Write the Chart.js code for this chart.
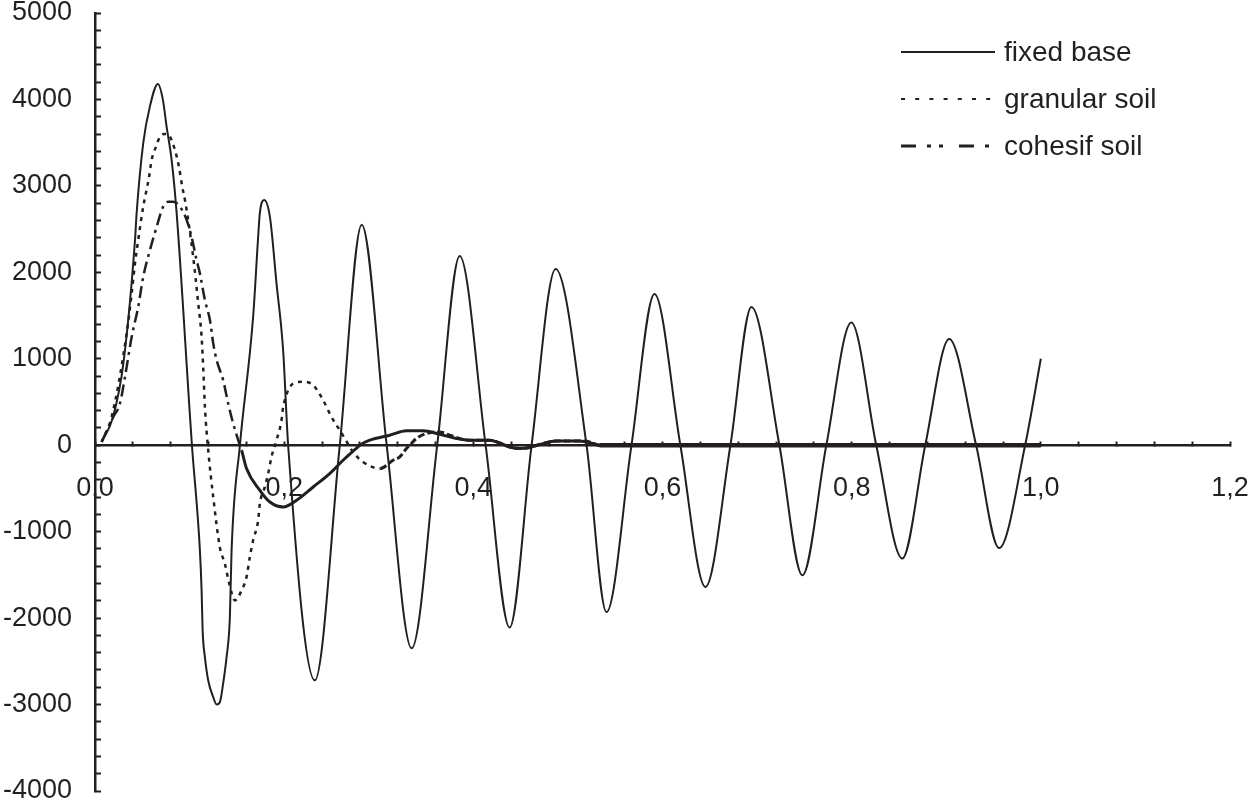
<!DOCTYPE html>
<html>
<head>
<meta charset="utf-8">
<script src="https://cdn.jsdelivr.net/npm/chart.js@4.4.1/dist/chart.umd.min.js"></script>
<style>
  html, body { margin: 0; padding: 0; background: #fff; }
  #wrap { width: 1253px; height: 805px; }
</style>
</head>
<body>
<div id="wrap"><canvas id="chart" width="1253" height="805"></canvas></div>
<script>
// --- Data: [time, value] ---
const seriesNames = ["fixed base", "granular soil", "cohesif soil"];

const fixedBase = [
  [0.007, 38], [0.019, 324], [0.030, 946], [0.0423, 2374], [0.044, 2683], [0.051, 3494],
  [0.058, 3917], [0.0665, 4180], [0.0718, 3995], [0.0757, 3686], [0.081, 3300], [0.0863, 2687],
  [0.1025, 0], [0.1109, -1216], [0.1127, -1679], [0.1138, -2142], [0.1162, -2452], [0.1197, -2721],
  [0.125, -2915], [0.1286, -3000], [0.132, -2973], [0.1355, -2756], [0.1391, -2452], [0.1426, -1988],
  [0.1444, -1216], [0.1532, 0], [0.1672, 1486], [0.1725, 2412], [0.1743, 2687], [0.1788, 2837],
  [0.1849, 2644], [0.1919, 1873], [0.1989, 1100], [0.2042, 0], [0.2324, -2720], [0.2588, 0],
  [0.2820, 2550], [0.3084, 0], [0.3348, -2350], [0.3618, 0], [0.3856, 2190], [0.4130, 0],
  [0.4384, -2110], [0.4616, 0], [0.4870, 2040], [0.5197, 0], [0.5408, -1930], [0.5672, 0],
  [0.5915, 1750], [0.6189, 0], [0.6454, -1640], [0.6718, 0], [0.6940, 1600], [0.7236, 0],
  [0.7479, -1505], [0.7732, 0], [0.7996, 1420], [0.8260, 0], [0.8535, -1310], [0.8778, 0],
  [0.9031, 1230], [0.9316, 0], [0.9559, -1190], [0.9834, 0], [1.0, 1000]
];

const granularSoil = [
  [0.007, 38], [0.0176, 328], [0.0335, 1293], [0.0388, 1757], [0.0423, 2104], [0.0457, 2374],
  [0.051, 2760], [0.057, 3092], [0.0599, 3300], [0.0644, 3451], [0.0687, 3570], [0.0739, 3601],
  [0.0792, 3570], [0.0845, 3416], [0.089, 3208], [0.0922, 2991], [0.0951, 2837], [0.1038, 2180],
  [0.1091, 1644], [0.1127, 1254], [0.1144, 900], [0.1162, 444], [0.1197, -58], [0.125, -598],
  [0.132, -1181], [0.1373, -1370], [0.1419, -1598], [0.1479, -1795], [0.155, -1679], [0.1602, -1525],
  [0.1637, -1293], [0.1672, -1100], [0.1725, -869], [0.1743, -675], [0.1796, -482], [0.1831, -328],
  [0.1866, -135], [0.1919, 58], [0.1972, 290], [0.1989, 444], [0.2007, 521], [0.2042, 637],
  [0.2095, 714], [0.22, 733], [0.2306, 695], [0.2412, 521], [0.25, 328], [0.2588, 174],
  [0.2641, 78], [0.2728, -78], [0.2834, -193], [0.3015, -270], [0.3151, -174], [0.3222, -135],
  [0.3293, -38], [0.3327, 0], [0.3398, 78], [0.3504, 135], [0.3644, 154], [0.375, 116],
  [0.3961, 58], [0.4172, 58], [0.4278, 27], [0.4384, -20], [0.4489, -38], [0.4595, -27],
  [0.4701, 8], [0.4877, 50], [0.5124, 50], [0.5229, 38], [0.5264, 20], [0.5334, 0], [1.0, 0]
];

const cohesifSoil = [
  [0.007, 38], [0.0193, 328], [0.0264, 483], [0.0317, 791], [0.0388, 1254], [0.0457, 1602],
  [0.051, 1949], [0.0581, 2258], [0.0652, 2528], [0.0721, 2760], [0.0774, 2817], [0.0827, 2817],
  [0.0898, 2760], [0.0969, 2606], [0.1021, 2412], [0.1074, 2142], [0.1109, 1988], [0.1162, 1679],
  [0.1215, 1448], [0.125, 1178], [0.1286, 984], [0.1355, 753], [0.1408, 483], [0.1461, 251],
  [0.1514, 58], [0.155, -58], [0.1602, -270], [0.1743, -521], [0.1849, -657], [0.1989, -714],
  [0.2131, -637], [0.2306, -483], [0.2482, -328], [0.2623, -174], [0.2764, -35], [0.2799, 0],
  [0.2905, 58], [0.3116, 116], [0.3293, 166], [0.3468, 166], [0.3644, 127], [0.3821, 78],
  [0.3961, 58], [0.4172, 58], [0.4278, 27], [0.4384, -20], [0.4489, -38], [0.4595, -27],
  [0.4701, 8], [0.4877, 50], [0.5124, 50], [0.5264, 20], [0.5334, 0], [1.0, 0]
];

// Axis ticks
const xMin = 0, xMax = 1.2, xStep = 0.04, xLabelEvery = 0.2;
const yMin = -4000, yMax = 5000, yStep = 200, yLabelEvery = 1000;

const ink = "#231f20";
const fontFamily = "'Liberation Sans', Arial, Helvetica, sans-serif";

function toPoints(rows) {
  return rows.map(r => ({ x: r[0], y: r[1] }));
}

// Legend drawn at top right, like the original figure
const sideLegend = {
  id: "sideLegend",
  afterDraw(chart) {
    const ctx = chart.ctx;
    ctx.save();
    ctx.font = "28px " + fontFamily;
    ctx.fillStyle = ink;
    ctx.textBaseline = "alphabetic";
    chart.data.datasets.forEach((ds, i) => {
      const y = 52 + i * 47;
      ctx.beginPath();
      ctx.strokeStyle = ink;
      ctx.lineWidth = ds.legendWidth;
      ctx.setLineDash(ds.legendDash);
      ctx.moveTo(901, y);
      ctx.lineTo(995, y);
      ctx.stroke();
      ctx.setLineDash([]);
      ctx.fillText(ds.label, 1004, y + 9);
    });
    ctx.restore();
  }
};

window.addEventListener("DOMContentLoaded", () => {
  const ctx = document.getElementById("chart").getContext("2d");

  new Chart(ctx, {
    type: "line",
    data: {
      datasets: [
        {
          label: seriesNames[0],
          data: toPoints(fixedBase),
          borderColor: ink,
          borderWidth: 2,
          legendWidth: 2,
          legendDash: []
        },
        {
          label: seriesNames[1],
          data: toPoints(granularSoil),
          borderColor: ink,
          borderWidth: 2.5,
          borderDash: [4, 5],
          legendWidth: 2,
          legendDash: [4, 10.2],
          segment: {
            borderDash: c => c.p0.parsed.x >= 0.30 ? [7, 3] : [4, 5],
            borderWidth: c => c.p0.parsed.x >= 0.30 ? 3 : 2.5
          }
        },
        {
          label: seriesNames[2],
          data: toPoints(cohesifSoil),
          borderColor: ink,
          borderWidth: 2.5,
          borderDash: [12, 5, 3, 5],
          legendWidth: 3,
          legendDash: [15, 11, 4, 8, 4, 16],
          segment: {
            borderDash: c => c.p0.parsed.x >= 0.155 ? [] : [12, 5, 3, 5],
            borderWidth: c => c.p0.parsed.x >= 0.53 ? 4.5 : (c.p0.parsed.x >= 0.155 ? 3 : 2.5)
          }
        }
      ]
    },
    options: {
      responsive: false,
      animation: false,
      parsing: false,
      elements: {
        point: { radius: 0, hoverRadius: 0 },
        line: { cubicInterpolationMode: "monotone", borderCapStyle: "butt" }
      },
      layout: { padding: { top: 13, right: 23, bottom: 14, left: 0 } },
      plugins: {
        legend: { display: false },
        tooltip: { enabled: false }
      },
      scales: {
        x: {
          type: "linear",
          position: { y: 0 },
          min: xMin,
          max: xMax,
          afterFit: function (s) { s.paddingLeft = 0; s.paddingRight = 0; },
          border: { display: true, color: ink, width: 2.5 },
          grid: {
            drawOnChartArea: false,
            drawTicks: true,
            tickLength: -5,
            tickColor: ink,
            tickWidth: 2
          },
          ticks: {
            stepSize: xStep,
            autoSkip: false,
            maxRotation: 0,
            padding: 35,
            color: ink,
            font: { family: fontFamily, size: 27, lineHeight: 1 },
            callback: function (v) {
              const k = Math.round(v / xLabelEvery);
              if (Math.abs(v - k * xLabelEvery) > 1e-6) return "";
              return (k * xLabelEvery).toFixed(1).replace(".", ",");
            }
          }
        },
        y: {
          type: "linear",
          position: "left",
          min: yMin,
          max: yMax,
          afterFit: function (s) { s.width = 95; s.paddingTop = 0; s.paddingBottom = 0; },
          border: { display: true, color: ink, width: 2.5 },
          grid: {
            drawOnChartArea: false,
            drawTicks: true,
            tickLength: -6,
            tickColor: ink,
            tickWidth: 2
          },
          ticks: {
            stepSize: yStep,
            autoSkip: false,
            padding: 29,
            color: ink,
            font: { family: fontFamily, size: 27, lineHeight: 1 },
            callback: function (v) {
              return v % yLabelEvery === 0 ? String(v) : "";
            }
          }
        }
      }
    },
    plugins: [sideLegend]
  });
});
</script>
</body>
</html>
